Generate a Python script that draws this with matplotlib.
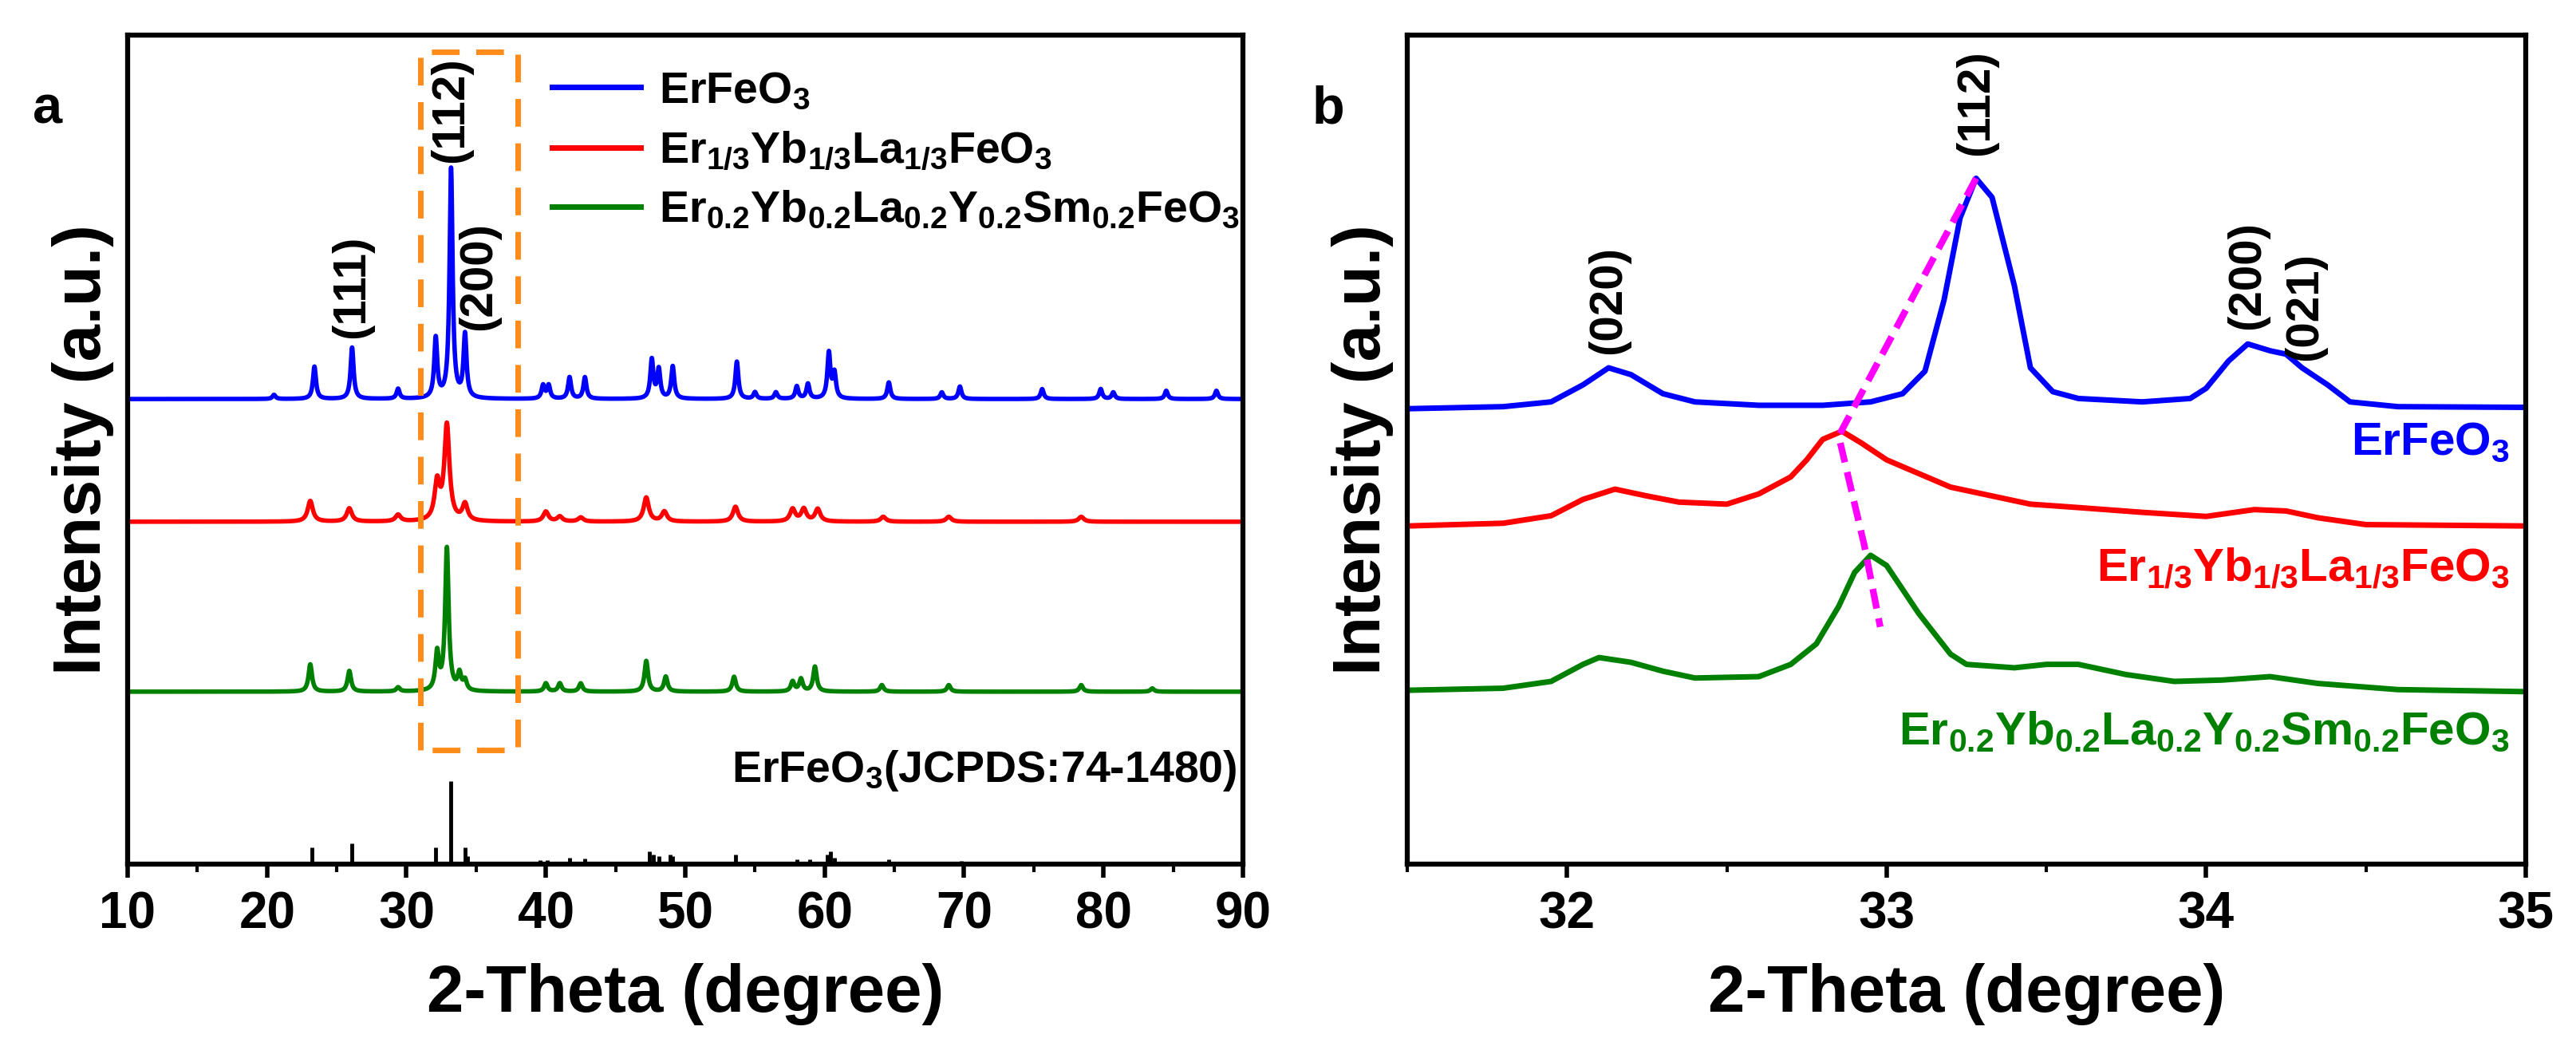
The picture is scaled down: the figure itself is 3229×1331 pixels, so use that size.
import numpy as np
import matplotlib
matplotlib.use("Agg")
import matplotlib.pyplot as plt
from matplotlib import font_manager as fm

names = {f.name for f in fm.fontManager.ttflist}
FONT = 'Liberation Sans Narrow' if 'Liberation Sans Narrow' in names else 'Liberation Sans'
plt.rcParams['font.family'] = [FONT, 'DejaVu Sans']
plt.rcParams['font.weight'] = 'bold'
plt.rcParams['mathtext.fontset'] = 'custom'
plt.rcParams['mathtext.rm'] = FONT + ':bold'
plt.rcParams['mathtext.default'] = 'rm'

# ---------------- Panel a data (peak positions / heights) ----------------
blue_base = 5.61
blue_pos = [20.5, 23.4, 26.1, 29.4, 32.1, 33.2, 34.2, 39.8, 40.2, 41.7, 42.8, 47.6, 48.1, 49.1, 53.7, 55.0, 56.5, 58.0, 58.8, 60.3, 60.7, 64.6, 68.4, 69.7, 75.6, 79.8, 80.7, 84.5, 88.1]
blue_h = [0.05, 0.39, 0.62, 0.12, 0.72, 2.77, 0.76, 0.16, 0.16, 0.26, 0.26, 0.47, 0.35, 0.39, 0.45, 0.08, 0.08, 0.15, 0.18, 0.55, 0.3, 0.2, 0.08, 0.15, 0.12, 0.12, 0.08, 0.1, 0.1]

red_base = 4.13
red_pos = [23.1, 25.9, 29.4, 32.2, 32.9, 34.2, 40.0, 41.0, 42.5, 47.2, 48.5, 53.6, 57.7, 58.5, 59.5, 64.2, 68.9, 78.4]
red_h = [0.25, 0.16, 0.08, 0.45, 1.15, 0.2, 0.12, 0.06, 0.05, 0.29, 0.12, 0.18, 0.15, 0.15, 0.15, 0.06, 0.06, 0.06]

green_base = 2.08
green_pos = [23.1, 25.9, 29.4, 32.2, 32.9, 33.8, 34.2, 40.0, 41.0, 42.5, 47.2, 48.6, 53.5, 57.7, 58.3, 59.3, 64.1, 68.9, 78.4, 83.5]
green_h = [0.33, 0.25, 0.05, 0.45, 1.72, 0.2, 0.12, 0.1, 0.1, 0.1, 0.37, 0.18, 0.18, 0.12, 0.15, 0.3, 0.08, 0.08, 0.08, 0.04]

ref_pos = [20.5, 23.2, 26.1, 32.1, 33.2, 34.2, 34.4, 39.6, 40.1, 41.7, 42.8, 47.4, 47.7, 48.1, 48.9, 49.1, 53.6, 55.0, 58.0, 58.9, 60.2, 60.4, 60.7, 64.6, 69.8, 75.5, 78.5, 79.8, 84.5, 88.1]
ref_h = [0.02, 0.2, 0.25, 0.2, 1.0, 0.2, 0.1, 0.05, 0.05, 0.08, 0.07, 0.15, 0.12, 0.1, 0.12, 0.1, 0.12, 0.03, 0.06, 0.06, 0.12, 0.15, 0.08, 0.06, 0.04, 0.03, 0.03, 0.03, 0.03, 0.02]

# ---------------- Panel b data (traced points) ----------------
b_blue_x = [31.5, 31.8, 31.95, 32.05, 32.13, 32.2, 32.3, 32.4, 32.6, 32.8, 32.95, 33.05, 33.12, 33.18, 33.23, 33.28, 33.33, 33.4, 33.45, 33.52, 33.6, 33.8, 33.95, 34.0, 34.07, 34.13, 34.2, 34.25, 34.3, 34.38, 34.45, 34.6, 35.0]
b_blue_y = [600, 597, 590, 565, 540, 550, 578, 590, 595, 595, 590, 578, 545, 440, 320, 262, 290, 420, 540, 575, 585, 590, 585, 570, 530, 505, 515, 520, 540, 565, 590, 597, 598]
b_red_x = [31.5, 31.8, 31.95, 32.05, 32.15, 32.25, 32.35, 32.5, 32.6, 32.7, 32.75, 32.8, 32.86, 32.92, 33.0, 33.1, 33.2, 33.3, 33.45, 33.6, 33.8, 34.0, 34.15, 34.25, 34.35, 34.5, 35.0]
b_red_y = [772, 768, 757, 733, 718, 728, 737, 740, 725, 700, 675, 645, 633, 650, 675, 695, 715, 725, 740, 745, 752, 758, 748, 750, 760, 770, 772]
b_green_x = [31.5, 31.8, 31.95, 32.05, 32.1, 32.2, 32.3, 32.4, 32.6, 32.7, 32.78, 32.85, 32.9, 32.95, 33.0, 33.1, 33.2, 33.25, 33.4, 33.5, 33.6, 33.75, 33.9, 34.05, 34.2, 34.35, 34.6, 35.0]
b_green_y = [1013, 1010, 1000, 975, 965, 972, 985, 995, 993, 975, 945, 890, 840, 815, 830, 900, 960, 975, 980, 975, 975, 990, 1000, 998, 993, 1003, 1012, 1015]
shift_x = [33.28, 32.85, 32.93, 32.98]
shift_y = [262, 640, 800, 920]

def px2u(v):
    return (1268 - np.asarray(v, float)) / 121.6

def profile(x, pos, h, base, w=0.12):
    y = np.full_like(x, base)
    for p, hh in zip(pos, h):
        y += hh / (1 + ((x - p) / w) ** 2)
    return y

BLUE, RED, GREEN = '#0000ff', '#ff0000', '#008000'
fig = plt.figure(figsize=(32.3, 13.31), dpi=100)
W, H = 3230, 1331
axa = fig.add_axes([160 / W, 1 - 1083 / H, (1558 - 160) / W, (1083 - 44) / H])
axb = fig.add_axes([1764 / W, 1 - 1083 / H, (3166 - 1764) / W, (1083 - 44) / H])

x = np.linspace(10, 90, 8001)
axa.plot(x, profile(x, blue_pos, blue_h, blue_base, 0.13), color=BLUE, lw=4, label='ErFeO$_3$')
axa.plot(x, profile(x, red_pos, red_h, red_base, 0.22), color=RED, lw=4, label='Er$_{1/3}$Yb$_{1/3}$La$_{1/3}$FeO$_3$')
axa.plot(x, profile(x, green_pos, green_h, green_base, 0.15), color=GREEN, lw=4, label='Er$_{0.2}$Yb$_{0.2}$La$_{0.2}$Y$_{0.2}$Sm$_{0.2}$FeO$_3$')
axa.vlines(ref_pos, 0, ref_h, color='black', lw=3.5)
axa.plot([31, 31, 38, 38, 31], [1.38, 9.8, 9.8, 1.38, 1.38], color='#ff8c1a', lw=5, ls=(0, (5, 3)))
axa.set_xlim(10, 90)
axa.set_ylim(0, 10)
axa.set_xticks(range(10, 91, 10))
axa.set_xticks(range(15, 90, 10), minor=True)
leg = axa.legend(loc='upper left', bbox_to_anchor=(0.345, 1.005), frameon=False, fontsize=40,
                 handlelength=2.0, labelspacing=0.4, handletextpad=0.4)
for l in leg.get_lines():
    l.set_linewidth(5)
axa.text(26.1, 6.97, '(111)', rotation=90, ha='center', va='center', fontsize=42, fontweight='bold')
axa.text(33.2, 9.1, '(112)', rotation=90, ha='center', va='center', fontsize=42, fontweight='bold')
axa.text(35.2, 7.09, '(200)', rotation=90, ha='center', va='center', fontsize=42, fontweight='bold')
axa.text(89.6, 1.13, 'ErFeO$_3$(JCPDS:74-1480)', ha='right', va='center', fontsize=40)
axa.text(-0.085, 0.91, 'a', transform=axa.transAxes, fontsize=48, fontweight='bold', ha='left', va='center')

axb.plot(b_blue_x, px2u(b_blue_y), color=BLUE, lw=5)
axb.plot(b_red_x, px2u(b_red_y), color=RED, lw=5)
axb.plot(b_green_x, px2u(b_green_y), color=GREEN, lw=5)
axb.plot(shift_x, px2u(shift_y), color='#ff00ff', lw=6, ls=(0, (3, 1.5)))
axb.set_xlim(31.5, 35)
axb.set_ylim(0, 10)
axb.set_xticks([32, 33, 34, 35])
axb.set_xticks([31.5, 32.5, 33.5, 34.5], minor=True)
axb.text(32.13, 6.8, '(020)', rotation=90, ha='center', va='center', fontsize=42)
axb.text(33.28, 9.19, '(112)', rotation=90, ha='center', va='center', fontsize=42)
axb.text(34.13, 7.1, '(200)', rotation=90, ha='center', va='center', fontsize=42)
axb.text(34.31, 6.73, '(021)', rotation=90, ha='center', va='center', fontsize=42)
axb.text(34.95, 5.08, 'ErFeO$_3$', color=BLUE, ha='right', va='center', fontsize=42)
axb.text(34.95, 3.56, 'Er$_{1/3}$Yb$_{1/3}$La$_{1/3}$FeO$_3$', color=RED, ha='right', va='center', fontsize=42)
axb.text(34.95, 1.59, 'Er$_{0.2}$Yb$_{0.2}$La$_{0.2}$Y$_{0.2}$Sm$_{0.2}$FeO$_3$', color=GREEN, ha='right', va='center', fontsize=42)
axb.text(-0.085, 0.91, 'b', transform=axb.transAxes, fontsize=48, fontweight='bold', ha='left', va='center')

for ax in (axa, axb):
    for s in ax.spines.values():
        s.set_linewidth(4.5)
    ax.set_yticks([])
    ax.tick_params(axis='x', which='major', length=12, width=4, labelsize=46, pad=12)
    ax.tick_params(axis='x', which='minor', length=7, width=3)
    for lab in ax.get_xticklabels():
        lab.set_fontweight('bold')
    ax.set_xlabel('2-Theta (degree)', fontsize=60, fontweight='bold', labelpad=22)
    ax.set_ylabel('Intensity (a.u.)', fontsize=60, fontweight='bold', labelpad=12)

fig.savefig('out.png', dpi=100)
